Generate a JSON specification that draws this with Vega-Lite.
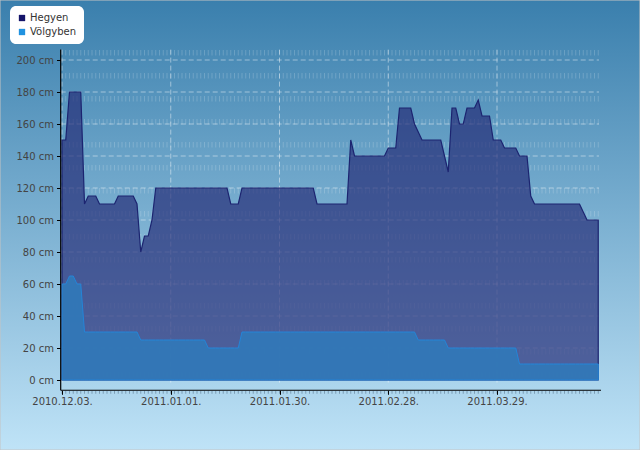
{
  "$schema": "https://vega.github.io/schema/vega-lite/v6.json",
  "width": 640,
  "height": 450,
  "autosize": {"type": "none"},
  "padding": 0,
  "background": "#7fb5da",
  "config": {
    "view": {"stroke": "#c4c4c4", "strokeWidth": 1},
    "font": "DejaVu Sans",
    "axis": {"labelFont": "DejaVu Sans", "labelFontSize": 10, "labelColor": "#444444", "tickColor": "#000000", "domain": false, "grid": false}
  },
  "datasets": {
    "main": [
      {"d": "2010-12-03", "h": 150, "v": 60}, {"d": "2010-12-04", "h": 150, "v": 60}, {"d": "2010-12-05", "h": 180, "v": 65}, {"d": "2010-12-06", "h": 180, "v": 65},
      {"d": "2010-12-07", "h": 180, "v": 60}, {"d": "2010-12-08", "h": 180, "v": 60}, {"d": "2010-12-09", "h": 110, "v": 30}, {"d": "2010-12-10", "h": 115, "v": 30},
      {"d": "2010-12-11", "h": 115, "v": 30}, {"d": "2010-12-12", "h": 115, "v": 30}, {"d": "2010-12-13", "h": 110, "v": 30}, {"d": "2010-12-14", "h": 110, "v": 30},
      {"d": "2010-12-15", "h": 110, "v": 30}, {"d": "2010-12-16", "h": 110, "v": 30}, {"d": "2010-12-17", "h": 110, "v": 30}, {"d": "2010-12-18", "h": 115, "v": 30},
      {"d": "2010-12-19", "h": 115, "v": 30}, {"d": "2010-12-20", "h": 115, "v": 30}, {"d": "2010-12-21", "h": 115, "v": 30}, {"d": "2010-12-22", "h": 115, "v": 30},
      {"d": "2010-12-23", "h": 110, "v": 30}, {"d": "2010-12-24", "h": 80, "v": 25}, {"d": "2010-12-25", "h": 90, "v": 25}, {"d": "2010-12-26", "h": 90, "v": 25},
      {"d": "2010-12-27", "h": 100, "v": 25}, {"d": "2010-12-28", "h": 120, "v": 25}, {"d": "2010-12-29", "h": 120, "v": 25}, {"d": "2010-12-30", "h": 120, "v": 25},
      {"d": "2010-12-31", "h": 120, "v": 25}, {"d": "2011-01-01", "h": 120, "v": 25}, {"d": "2011-01-02", "h": 120, "v": 25}, {"d": "2011-01-03", "h": 120, "v": 25},
      {"d": "2011-01-04", "h": 120, "v": 25}, {"d": "2011-01-05", "h": 120, "v": 25}, {"d": "2011-01-06", "h": 120, "v": 25}, {"d": "2011-01-07", "h": 120, "v": 25},
      {"d": "2011-01-08", "h": 120, "v": 25}, {"d": "2011-01-09", "h": 120, "v": 25}, {"d": "2011-01-10", "h": 120, "v": 25}, {"d": "2011-01-11", "h": 120, "v": 20},
      {"d": "2011-01-12", "h": 120, "v": 20}, {"d": "2011-01-13", "h": 120, "v": 20}, {"d": "2011-01-14", "h": 120, "v": 20}, {"d": "2011-01-15", "h": 120, "v": 20},
      {"d": "2011-01-16", "h": 120, "v": 20}, {"d": "2011-01-17", "h": 110, "v": 20}, {"d": "2011-01-18", "h": 110, "v": 20}, {"d": "2011-01-19", "h": 110, "v": 20},
      {"d": "2011-01-20", "h": 120, "v": 30}, {"d": "2011-01-21", "h": 120, "v": 30}, {"d": "2011-01-22", "h": 120, "v": 30}, {"d": "2011-01-23", "h": 120, "v": 30},
      {"d": "2011-01-24", "h": 120, "v": 30}, {"d": "2011-01-25", "h": 120, "v": 30}, {"d": "2011-01-26", "h": 120, "v": 30}, {"d": "2011-01-27", "h": 120, "v": 30},
      {"d": "2011-01-28", "h": 120, "v": 30}, {"d": "2011-01-29", "h": 120, "v": 30}, {"d": "2011-01-30", "h": 120, "v": 30}, {"d": "2011-01-31", "h": 120, "v": 30},
      {"d": "2011-02-01", "h": 120, "v": 30}, {"d": "2011-02-02", "h": 120, "v": 30}, {"d": "2011-02-03", "h": 120, "v": 30}, {"d": "2011-02-04", "h": 120, "v": 30},
      {"d": "2011-02-05", "h": 120, "v": 30}, {"d": "2011-02-06", "h": 120, "v": 30}, {"d": "2011-02-07", "h": 120, "v": 30}, {"d": "2011-02-08", "h": 120, "v": 30},
      {"d": "2011-02-09", "h": 110, "v": 30}, {"d": "2011-02-10", "h": 110, "v": 30}, {"d": "2011-02-11", "h": 110, "v": 30}, {"d": "2011-02-12", "h": 110, "v": 30},
      {"d": "2011-02-13", "h": 110, "v": 30}, {"d": "2011-02-14", "h": 110, "v": 30}, {"d": "2011-02-15", "h": 110, "v": 30}, {"d": "2011-02-16", "h": 110, "v": 30},
      {"d": "2011-02-17", "h": 110, "v": 30}, {"d": "2011-02-18", "h": 150, "v": 30}, {"d": "2011-02-19", "h": 140, "v": 30}, {"d": "2011-02-20", "h": 140, "v": 30},
      {"d": "2011-02-21", "h": 140, "v": 30}, {"d": "2011-02-22", "h": 140, "v": 30}, {"d": "2011-02-23", "h": 140, "v": 30}, {"d": "2011-02-24", "h": 140, "v": 30},
      {"d": "2011-02-25", "h": 140, "v": 30}, {"d": "2011-02-26", "h": 140, "v": 30}, {"d": "2011-02-27", "h": 140, "v": 30}, {"d": "2011-02-28", "h": 145, "v": 30},
      {"d": "2011-03-01", "h": 145, "v": 30}, {"d": "2011-03-02", "h": 145, "v": 30}, {"d": "2011-03-03", "h": 170, "v": 30}, {"d": "2011-03-04", "h": 170, "v": 30},
      {"d": "2011-03-05", "h": 170, "v": 30}, {"d": "2011-03-06", "h": 170, "v": 30}, {"d": "2011-03-07", "h": 160, "v": 30}, {"d": "2011-03-08", "h": 155, "v": 25},
      {"d": "2011-03-09", "h": 150, "v": 25}, {"d": "2011-03-10", "h": 150, "v": 25}, {"d": "2011-03-11", "h": 150, "v": 25}, {"d": "2011-03-12", "h": 150, "v": 25},
      {"d": "2011-03-13", "h": 150, "v": 25}, {"d": "2011-03-14", "h": 150, "v": 25}, {"d": "2011-03-15", "h": 140, "v": 25}, {"d": "2011-03-16", "h": 130, "v": 20},
      {"d": "2011-03-17", "h": 170, "v": 20}, {"d": "2011-03-18", "h": 170, "v": 20}, {"d": "2011-03-19", "h": 160, "v": 20}, {"d": "2011-03-20", "h": 160, "v": 20},
      {"d": "2011-03-21", "h": 170, "v": 20}, {"d": "2011-03-22", "h": 170, "v": 20}, {"d": "2011-03-23", "h": 170, "v": 20}, {"d": "2011-03-24", "h": 175, "v": 20},
      {"d": "2011-03-25", "h": 165, "v": 20}, {"d": "2011-03-26", "h": 165, "v": 20}, {"d": "2011-03-27", "h": 165, "v": 20}, {"d": "2011-03-28", "h": 150, "v": 20},
      {"d": "2011-03-29", "h": 150, "v": 20}, {"d": "2011-03-30", "h": 150, "v": 20}, {"d": "2011-03-31", "h": 145, "v": 20}, {"d": "2011-04-01", "h": 145, "v": 20},
      {"d": "2011-04-02", "h": 145, "v": 20}, {"d": "2011-04-03", "h": 145, "v": 20}, {"d": "2011-04-04", "h": 140, "v": 10}, {"d": "2011-04-05", "h": 140, "v": 10},
      {"d": "2011-04-06", "h": 140, "v": 10}, {"d": "2011-04-07", "h": 115, "v": 10}, {"d": "2011-04-08", "h": 110, "v": 10}, {"d": "2011-04-09", "h": 110, "v": 10},
      {"d": "2011-04-10", "h": 110, "v": 10}, {"d": "2011-04-11", "h": 110, "v": 10}, {"d": "2011-04-12", "h": 110, "v": 10}, {"d": "2011-04-13", "h": 110, "v": 10},
      {"d": "2011-04-14", "h": 110, "v": 10}, {"d": "2011-04-15", "h": 110, "v": 10}, {"d": "2011-04-16", "h": 110, "v": 10}, {"d": "2011-04-17", "h": 110, "v": 10},
      {"d": "2011-04-18", "h": 110, "v": 10}, {"d": "2011-04-19", "h": 110, "v": 10}, {"d": "2011-04-20", "h": 110, "v": 10}, {"d": "2011-04-21", "h": 105, "v": 10},
      {"d": "2011-04-22", "h": 100, "v": 10}, {"d": "2011-04-23", "h": 100, "v": 10}, {"d": "2011-04-24", "h": 100, "v": 10}, {"d": "2011-04-25", "h": 100, "v": 10}
    ],
    "gridY": [{"v": 20}, {"v": 40}, {"v": 60}, {"v": 80}, {"v": 100}, {"v": 120}, {"v": 140}, {"v": 160}, {"v": 180}, {"v": 200}],
    "gridX": [{"t": "2010-12-03"}, {"t": "2011-01-01"}, {"t": "2011-01-30"}, {"t": "2011-02-28"}, {"t": "2011-03-29"}],
    "series": [{"s": "Hegyen"}, {"s": "Völgyben"}],
    "one": [{}]
  },
  "layer": [
    {
      "data": {"name": "one"},
      "mark": {"type": "rect", "fill": {"gradient": "linear", "x1": 0, "y1": 0, "x2": 0, "y2": 1, "stops": [{"offset": 0, "color": "#3a7fad"}, {"offset": 1, "color": "#bfe3f7"}]}, "stroke": "#c4c4c4", "strokeWidth": 1},
      "encoding": {}
    },
    {
      "data": {"name": "main"},
      "mark": {"type": "rule", "color": "#ffffff", "opacity": 0.18, "strokeDash": [5.5, 17.5]},
      "encoding": {
        "x": {"field": "d", "type": "temporal", "scale": {"type": "utc"}},
        "y": {"datum": 206.25, "type": "quantitative"},
        "y2": {"datum": 0}
      }
    },
    {
      "data": {"name": "gridX"},
      "mark": {"type": "rule", "color": "#ffffff", "opacity": 0.45, "strokeDash": [5, 3]},
      "encoding": {
        "x": {"field": "t", "type": "temporal", "scale": {"type": "utc"}},
        "y": {"datum": 206.5, "type": "quantitative"},
        "y2": {"datum": -3}
      }
    },
    {
      "data": {"name": "gridY"},
      "mark": {"type": "rule", "color": "#ffffff", "opacity": 0.45, "strokeDash": [5, 3]},
      "encoding": {
        "y": {"field": "v", "type": "quantitative"},
        "x": {"datum": {"year": 2010, "month": "dec", "date": 2, "hours": 15, "minutes": 40, "utc": true}, "type": "temporal", "scale": {"type": "utc"}},
        "x2": {"datum": {"year": 2011, "month": "apr", "date": 25, "hours": 5, "utc": true}}
      }
    },
    {
      "data": {"name": "main"},
      "mark": {"type": "area", "fill": "#222875", "fillOpacity": 0.67, "stroke": "#1c2470", "strokeWidth": 1.2, "strokeOpacity": 1},
      "encoding": {
        "x": {
          "field": "d", "type": "temporal", "title": null,
          "scale": {"type": "utc", "domain": [{"year": 2010, "month": "nov", "date": 16, "hours": 11, "minutes": 12, "utc": true}, {"year": 2011, "month": "may", "date": 6, "hours": 3, "minutes": 12, "utc": true}]},
          "axis": {
            "orient": "bottom", "offset": -59.7, "zindex": 2, "tickSize": 4, "labelPadding": 2, "format": "%Y.%m.%d.", "title": null,
            "values": [
              {"year": 2010, "month": "dec", "date": 3, "utc": true},
              {"year": 2011, "month": "jan", "date": 1, "utc": true},
              {"year": 2011, "month": "jan", "date": 30, "utc": true},
              {"year": 2011, "month": "feb", "date": 28, "utc": true},
              {"year": 2011, "month": "mar", "date": 29, "utc": true}
            ]
          }
        },
        "y": {
          "field": "h", "type": "quantitative", "title": null,
          "scale": {"domain": [-43.75, 237.5], "nice": false, "zero": false},
          "axis": {"orient": "left", "offset": -60.5, "zindex": 2, "tickSize": 4, "labelPadding": 3, "title": null, "values": [0, 20, 40, 60, 80, 100, 120, 140, 160, 180, 200], "labelExpr": "datum.value + ' cm'"}
        }
      }
    },
    {
      "data": {"name": "main"},
      "mark": {"type": "area", "fill": "#3178b9", "fillOpacity": 0.92, "stroke": "#2485d8", "strokeWidth": 1},
      "encoding": {
        "x": {"field": "d", "type": "temporal", "scale": {"type": "utc"}},
        "y": {"field": "v", "type": "quantitative"}
      }
    },
    {
      "data": {"name": "main"},
      "mark": {"type": "tick", "orient": "vertical", "size": 3, "thickness": 1, "color": "#6f8fa8", "opacity": 0.8},
      "encoding": {
        "x": {"field": "d", "type": "temporal", "scale": {"type": "utc"}},
        "y": {"datum": -7.6, "type": "quantitative"}
      }
    },
    {
      "data": {"name": "one"},
      "mark": {"type": "rule", "color": "#000000", "strokeWidth": 1.2},
      "encoding": {
        "x": {"datum": {"year": 2010, "month": "dec", "date": 2, "hours": 15, "minutes": 40, "utc": true}, "type": "temporal", "scale": {"type": "utc"}},
        "y": {"datum": 206.5, "type": "quantitative"},
        "y2": {"datum": -6.4}
      }
    },
    {
      "data": {"name": "one"},
      "mark": {"type": "rule", "color": "#000000", "strokeWidth": 1.2},
      "encoding": {
        "x": {"datum": {"year": 2010, "month": "dec", "date": 2, "hours": 15, "minutes": 40, "utc": true}, "type": "temporal", "scale": {"type": "utc"}},
        "x2": {"datum": {"year": 2011, "month": "apr", "date": 25, "hours": 17, "minutes": 30, "utc": true}},
        "y": {"datum": -6.4, "type": "quantitative"}
      }
    },
    {
      "data": {"name": "series"},
      "transform": [{"filter": "false"}],
      "mark": {"type": "square"},
      "encoding": {
        "color": {
          "field": "s", "type": "nominal",
          "scale": {"domain": ["Hegyen", "Völgyben"], "range": ["#14146a", "#2092e0"]},
          "legend": {
            "orient": "none", "legendX": 10, "legendY": 6, "title": null,
            "fillColor": "#ffffff", "cornerRadius": 6, "padding": 7,
            "symbolType": "square", "symbolSize": 40, "symbolStrokeWidth": 0, "symbolOpacity": 1,
            "labelFont": "DejaVu Sans", "labelFontSize": 10, "labelColor": "#333333", "labelOffset": 3, "rowPadding": 4
          }
        }
      }
    }
  ]
}
